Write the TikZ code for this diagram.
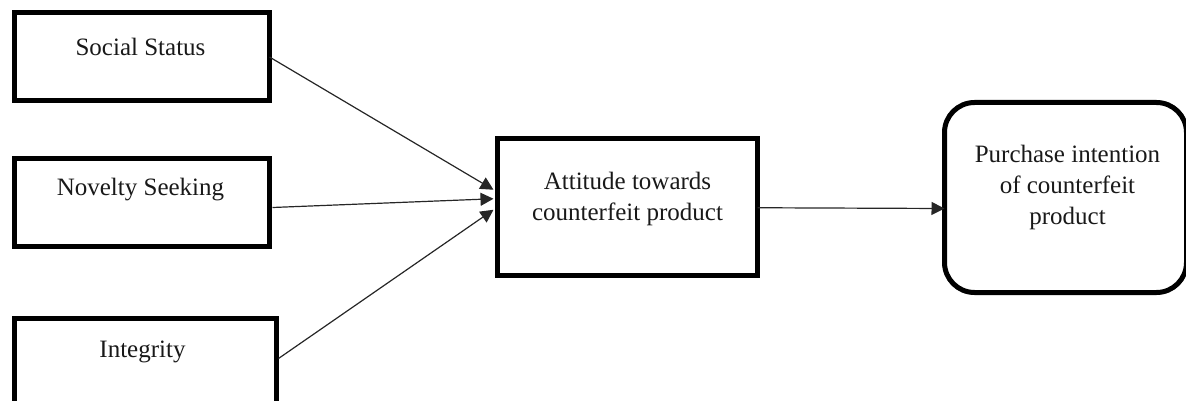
\documentclass[tikz,border=0pt]{standalone}
\usepackage{fontspec}
\setmainfont{Liberation Serif}
\usetikzlibrary{arrows.meta,calc}
\begin{document}
\begin{tikzpicture}[x=1pt,y=-1pt,
  box/.style={draw=black,line width=5pt,minimum width=255pt,minimum height=88pt,inner sep=0pt,outer sep=0pt},
  lbl/.style={font=\fontsize{25}{31}\selectfont,align=center,inner sep=0pt,text=black!90},
  conn/.style={draw=black!85,line width=1.2pt,-{Triangle[length=13pt,width=13pt]}}]
\useasboundingbox (0,0) rectangle (1186,401);
\node[box] (ss) at (142,57) {};
\node[box,minimum height=88pt] (ns) at (142,202.5) {};
\node[box,minimum width=262pt,minimum height=90pt] (ig) at (145.5,363.5) {};
\node[box,minimum width=260pt,minimum height=136.5pt] (at) at (627.5,206.75) {};
\node[box,rounded corners=30pt,minimum width=242pt,minimum height=190pt] (pi) at (1065.5,197.5) {};
\node[lbl] (tss) at (140.5,47) {Social Status};
\node[lbl] (tns) at (140.5,190) {Novelty Seeking};
\node[lbl] (tig) at (142.5,352) {Integrity};
\node[lbl] (tat) at (627.5,198.5) {Attitude towards\\counterfeit product};
\node[lbl] (tpi) at (1067.5,187) {Purchase intention\\of counterfeit\\product};
\draw[conn] (ss.east) -- ($(at.west)+(-4,-17)$);
\draw[conn] ($(ns.east)+(3,5)$) -- ($(at.west)+(-4,-8)$);
\draw[conn] ($(ig.east)+(2,-5)$) -- ($(at.west)+(-4,3)$);
\draw[conn] ($(at.east)+(0,1)$) -- ($(pi.west)+(0,11)$);
\end{tikzpicture}
\end{document}
